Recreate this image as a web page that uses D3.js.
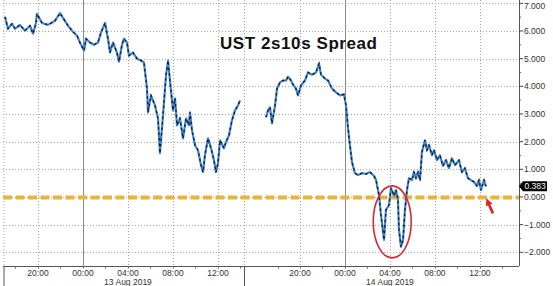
<!DOCTYPE html>
<html><head><meta charset="utf-8">
<script src="https://cdn.jsdelivr.net/npm/d3@7"></script>
<style>body{margin:0;background:#fff}svg{display:block}</style>
</head><body><svg id="c" width="553" height="286"></svg>
<script>
// ---- data (hours relative to midnight of the session's date) ----
const title = "UST 2s10s Spread";
const day1Date = [2019, 7, 13];
const day1Hours = [-6.93,-6.67,-6.31,-6.04,-5.6,-5.16,-4.71,-4.44,-4.18,-4.09,-3.64,-3.11,-2.49,-2.04,-1.78,-1.33,-0.98,-0.53,-0.27,0.09,0.27,0.62,0.98,1.33,1.6,1.96,2.22,2.4,2.67,3.02,3.2,3.47,3.64,3.91,4.09,4.44,4.8,5.16,5.42,5.69,5.78,6.04,6.4,6.67,6.84,7.11,7.38,7.56,7.73,8.0,8.18,8.36,8.62,8.89,9.16,9.42,9.51,9.69,9.96,10.22,10.49,10.67,10.84,11.11,11.38,11.64,11.82,12.0,12.18,12.53,12.71,12.98,13.24,13.51,13.78,13.96];
const day1Values = [6.51,6.08,6.26,6.08,6.22,6.01,6.19,5.90,6.29,6.62,6.29,6.22,6.37,6.65,6.47,6.19,6.01,5.83,5.58,5.29,5.72,5.58,5.50,5.58,5.94,6.29,5.72,5.22,5.58,5.22,4.89,5.50,5.72,5.58,5.11,5.22,5.00,4.93,4.86,3.92,3.06,3.67,3.31,2.84,1.58,2.95,4.39,4.93,4.21,3.13,3.56,2.59,2.84,2.12,2.84,2.59,3.06,2.41,1.87,1.69,1.15,0.90,1.51,2.12,1.76,1.33,0.90,1.22,2.05,1.76,1.98,2.23,2.77,3.13,3.31,3.49];
const day2Date = [2019, 7, 14];
const day2Hours = [-7.02,-6.84,-6.67,-6.49,-6.22,-6.04,-5.78,-5.51,-5.24,-5.07,-4.8,-4.62,-4.36,-4.18,-3.91,-3.56,-3.29,-2.93,-2.58,-2.31,-2.13,-1.78,-1.51,-1.16,-0.8,-0.44,-0.09,0.09,0.27,0.44,0.62,0.89,1.16,1.51,1.87,2.22,2.58,2.76,3.02,3.2,3.47,3.64,3.91,4.09,4.36,4.53,4.71,4.8,4.98,5.16,5.33,5.51,5.69,5.96,6.13,6.31,6.49,6.67,6.84,7.11,7.29,7.47,7.73,7.91,8.18,8.44,8.71,8.98,9.24,9.51,9.78,10.13,10.4,10.67,10.93,11.2,11.47,11.73,11.91,12.09,12.36,12.53];
const day2Values = [2.88,3.13,3.24,2.66,3.31,3.92,4.14,4.21,4.21,4.35,4.21,4.06,3.92,3.67,4.03,4.21,4.50,4.42,4.50,4.82,4.42,4.28,4.21,3.92,3.78,3.67,3.71,3.31,2.48,1.87,1.26,0.86,0.79,0.86,0.83,0.90,0.76,0.61,0.07,-0.65,-1.55,-0.47,-0.29,0.32,0.04,0.25,-0.11,-1.19,-1.80,-1.55,-0.47,0.25,0.68,0.61,0.90,0.68,0.90,0.61,1.62,2.05,1.69,1.87,1.51,1.69,1.33,1.51,1.12,1.33,1.04,1.40,1.15,1.33,0.90,1.04,0.68,0.61,0.54,0.40,0.61,0.25,0.61,0.383];
const lastValue = 0.383;
const yTicks = [7,6,5,4,3,2,1,0,-1,-2];
const tickHours = [20,0,4,8,12];            // labelled ticks per session
const minorHours = [18,20,22,0,2,4,6,8,10,12,14];
const dateLabels = ["13 Aug 2019","14 Aug 2019"];
const refLevel = 0;

// ---- helpers ----
function at(dateArr, h){
  const d = new Date(dateArr[0], dateArr[1], dateArr[2]);
  return new Date(d.getTime() + h*3600e3);
}
const svg = d3.select("#c");
const L = 3, R = 519, T = 0, B = 266;
const x = d3.scaleTime()
  .domain([at(day1Date,-7.11), at(day1Date,14.4), at(day2Date,-8.89), at(day2Date,15.47)])
  .range([L, 245, 245, R]);
const y = d3.scaleLinear().domain([-2, 7]).range([252.3, 3.3]);

const sessions = [day1Date, day2Date];
const majorTimes = [], minorTimes = [];
sessions.forEach(sd=>{
  tickHours.forEach(h=>majorTimes.push({t: at(sd, h>=16 ? h-24 : h), h}));
  minorHours.forEach(h=>{ const hh = h>=16 ? h-24 : h; if (sd===day1Date || hh>-9) minorTimes.push(at(sd, hh)); });
});

// ---- grid ----
const grid = svg.append("g");
yTicks.forEach(v=>{
  grid.append("line").attr("x1",L).attr("x2",R).attr("y1",Math.round(y(v))+0.5).attr("y2",Math.round(y(v))+0.5)
    .attr("stroke","#a8a8a8").attr("stroke-width",1).attr("stroke-dasharray","1,2");
});
majorTimes.forEach(m=>{
  const xx = Math.round(x(m.t))+0.5;
  grid.append("line").attr("x1",xx).attr("x2",xx).attr("y1",T).attr("y2",B)
    .attr("stroke", m.h===0 ? "#8a8a8a" : "#a8a8a8").attr("stroke-width",1)
    .attr("stroke-dasharray", m.h===0 ? null : "1,2");
});
[L+1, 244.5].forEach(xx=>{
  grid.append("line").attr("x1",xx).attr("x2",xx).attr("y1",T).attr("y2",B)
    .attr("stroke","#a8a8a8").attr("stroke-dasharray","1,2");
});

// ---- reference dashed line ----
svg.append("line").attr("x1",L).attr("x2",R).attr("y1",y(refLevel)+0.5).attr("y2",y(refLevel)+0.5)
  .attr("stroke","#e8b43c").attr("stroke-width",4).attr("stroke-dasharray","9,3.5");

// ---- series ----
const line = d3.line().x(d=>x(d[0])).y(d=>y(d[1]));
const s1 = day1Hours.map((h,i)=>[at(day1Date,h), day1Values[i]]);
const s2 = day2Hours.map((h,i)=>[at(day2Date,h), day2Values[i]]);
[s1,s2].forEach(s=>{
  svg.append("path").datum(s).attr("d",line).attr("fill","none")
    .attr("stroke","#3d86d4").attr("stroke-width",2.2).attr("stroke-linejoin","round");
  svg.append("path").datum(s).attr("d",line).attr("fill","none")
    .attr("stroke","#1a1a1a").attr("stroke-width",1.3).attr("stroke-dasharray","2.5,3");
});

// ---- axes ----
const ax = svg.append("g").attr("font-family","'Liberation Sans', Arial, sans-serif");
ax.append("line").attr("x1",R+0.5).attr("x2",R+0.5).attr("y1",0).attr("y2",B).attr("stroke","#555");
ax.append("line").attr("x1",L).attr("x2",R).attr("y1",B+0.5).attr("y2",B+0.5).attr("stroke","#555");
yTicks.forEach(v=>{
  ax.append("line").attr("x1",R).attr("x2",R+4).attr("y1",y(v)).attr("y2",y(v)).attr("stroke","#444");
  ax.append("text").attr("x",524).attr("y",Math.max(y(v)+3, 8.5)).attr("font-size",8.5).attr("fill","#333")
    .text(d3.format(".3f")(v));
});
yTicks.slice(1).forEach(v=>{
  const m = y(v+0.5);
  ax.append("line").attr("x1",R).attr("x2",R+2).attr("y1",m).attr("y2",m).attr("stroke","#666");
});
minorTimes.forEach(t=>{
  const xx = Math.round(x(t))+0.5;
  ax.append("line").attr("x1",xx).attr("x2",xx).attr("y1",B).attr("y2",B+2.5).attr("stroke","#666");
});
majorTimes.forEach(m=>{
  ax.append("text").attr("x",x(m.t)).attr("y",276).attr("text-anchor","middle")
    .attr("font-size",8.5).attr("fill","#333").text(d3.timeFormat("%H:%M")(m.t));
});
sessions.forEach((sd,i)=>{
  ax.append("text").attr("x",x(at(sd,4))).attr("y",285).attr("text-anchor","middle")
    .attr("font-size",8.5).attr("fill","#333").text(dateLabels[i]);
});
[L+1, 244.5].forEach(xx=>{
  ax.append("line").attr("x1",xx).attr("x2",xx).attr("y1",B).attr("y2",286).attr("stroke","#555");
});

// last value tag
const cy = y(lastValue);
ax.append("path").attr("d",`M${R},${cy} L${R+4},${cy-5} L547,${cy-5} L547,${cy+5} L${R+4},${cy+5} Z`)
  .attr("fill","#000");
ax.append("text").attr("x",524.5).attr("y",cy+3).attr("font-size",8.5).attr("fill","#fff").text(d3.format(".3f")(lastValue));

// ---- title ----
svg.append("text").attr("x",220).attr("y",48.5).attr("font-family","'Liberation Sans', Arial, sans-serif")
  .attr("font-weight","bold").attr("font-size",17).attr("textLength",157).attr("lengthAdjust","spacing")
  .attr("fill","#111").text(title);

// ---- annotations ----
const lowT = at(day2Date, 4.2);
svg.append("ellipse").attr("cx",x(lowT)).attr("cy",y(-0.9)).attr("rx",19).attr("ry",36)
  .attr("fill","none").attr("stroke","#d42a36").attr("stroke-width",1.6);
const endT = at(day2Date, 12.53);
const tipX = x(endT)+0.5, tipY = y(lastValue)+12;
svg.append("line").attr("x1",tipX+2.7).attr("y1",tipY+6.5).attr("x2",tipX+6.5).attr("y2",tipY+15)
  .attr("stroke","#e0202a").attr("stroke-width",2.6);
svg.append("path").attr("d",`M${tipX},${tipY} L${tipX+6},${tipY+5.5} L${tipX-0.5},${tipY+8} Z`).attr("fill","#e0202a");
</script></body></html>
